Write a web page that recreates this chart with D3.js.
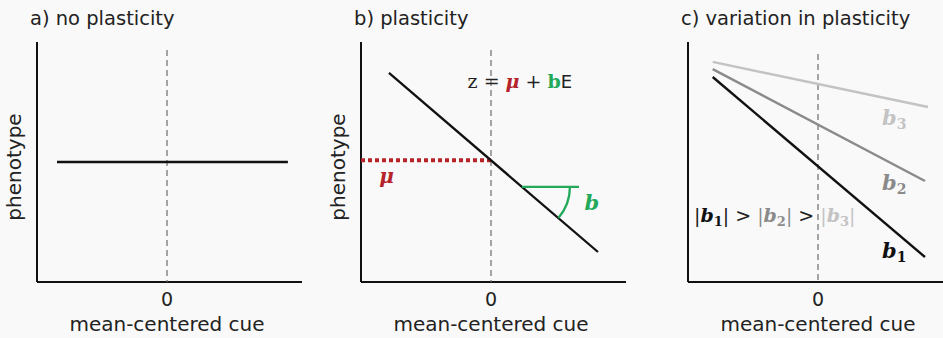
<!DOCTYPE html>
<html>
<head>
<meta charset="utf-8">
<script src="https://cdn.jsdelivr.net/npm/d3@7/dist/d3.min.js"></script>
<style>
  body { margin: 0; background: #f9f9f9; }
  svg { display: block; }
  .sans { font-family: "DejaVu Sans", sans-serif; fill: #222; }
  .math { font-family: "DejaVu Serif", "Liberation Serif", serif; }
</style>
</head>
<body>
<svg id="chart" width="943" height="338"></svg>
<script>
// panel titles and axis texts
var titles = ["a) no plasticity", "b) plasticity", "c) variation in plasticity"];
var panelLeft = [37, 361, 688];
var xTicks = [0];
var xLabel = "mean-centered cue";
var yLabel = "phenotype";

// reaction norms, endpoints in data units (x: mean-centered cue, y: phenotype)
var normA = [[-0.846, 0.5], [0.93, 0.5]];
var normB = [[-0.785, 0.871], [0.823, 0.125]];
var muB = 0.507;           // intercept of panel b
var slopeB = -0.464;       // slope of panel b
var angleFrom = 0.238, angleTo = 0.677;
var normsC = [
  {name: "b3", color: "#c3c3c3", pts: [[-0.81, 0.917], [0.846, 0.729]]},
  {name: "b2", color: "#8a8a8a", pts: [[-0.81, 0.887], [0.823, 0.421]]},
  {name: "b1", color: "#111111", pts: [[-0.81, 0.854], [0.823, 0.104]]}
];

var svg = d3.select("#chart");
var red = "#b5242a", green = "#22a95a";

panelLeft.forEach(function(L, i){
  var x = d3.scaleLinear().domain([-1, 1]).range([L, L + 260]);
  var y = d3.scaleLinear().domain([0, 1]).range([282, 42]);
  var g = svg.append("g");
  var line = d3.line().x(d => x(d[0])).y(d => y(d[1]));

  g.append("text").attr("class", "sans")
    .attr("x", L - 7).attr("y", 25)
    .style("font-size", "19.5px").text(titles[i]);

  // axes
  g.append("path").attr("d", line([[-1, 1], [-1, 0]]))
    .attr("stroke", "#111").attr("stroke-width", 2).attr("fill", "none");
  g.append("line").attr("x1", L).attr("x2", Math.min(L + 265, 943))
    .attr("y1", y(0)).attr("y2", y(0))
    .attr("stroke", "#111").attr("stroke-width", 2);

  g.selectAll(".tick").data(xTicks).enter().append("text").attr("class", "sans")
    .attr("x", d => x(d)).attr("y", 306).attr("text-anchor", "middle")
    .style("font-size", "19px").text(d => d);

  g.append("text").attr("class", "sans")
    .attr("x", x(0)).attr("y", 331).attr("text-anchor", "middle")
    .style("font-size", "20px").text(xLabel);

  if (i < 2) {
    g.append("text").attr("class", "sans")
      .attr("transform", "translate(" + (L - 16) + "," + 167 + ") rotate(-90)")
      .attr("text-anchor", "middle")
      .style("font-size", "20px").text(yLabel);
  }

  // dashed zero line
  g.append("path").attr("d", line([[0, i == 2 ? 0.95 : 0.967], [0, 0]]))
    .attr("stroke", "#777").attr("stroke-width", 1.3)
    .attr("stroke-dasharray", "6,4").attr("fill", "none");

  if (i == 0) {
    g.append("path").attr("d", line(normA))
      .attr("stroke", "#111").attr("stroke-width", 2.6).attr("fill", "none");
  }

  if (i == 1) {
    g.append("path").attr("d", line([[-1, muB], [0, muB]]))
      .attr("stroke", red).attr("stroke-width", 4)
      .attr("stroke-dasharray", "4,3").attr("fill", "none");
    g.append("path").attr("d", line(normB))
      .attr("stroke", "#111").attr("stroke-width", 2.3).attr("fill", "none");

    var ay = muB + slopeB * angleFrom;
    g.append("path").attr("d", line([[angleFrom, ay], [angleTo, ay]]))
      .attr("stroke", green).attr("stroke-width", 2.3).attr("fill", "none");
    var cx = x(angleFrom), cy = y(ay), r = 48;
    var ang = Math.atan(-slopeB * (y(0) - y(1)) / (x(1) - x(0)));
    var arc = d3.path();
    arc.arc(cx, cy, r, 0, ang, false);
    g.append("path").attr("d", arc.toString())
      .attr("stroke", green).attr("stroke-width", 2.3).attr("fill", "none");

    g.append("text").attr("class", "math")
      .attr("x", x(-0.86)).attr("y", 183)
      .style("font-size", "20px").style("font-weight", "bold").style("font-style", "italic")
      .attr("fill", red).text("μ");
    g.append("text").attr("class", "math")
      .attr("x", x(0.72)).attr("y", 210)
      .style("font-size", "21px").style("font-weight", "bold").style("font-style", "italic")
      .attr("fill", green).text("b");

    var eq = g.append("text").attr("x", x(-0.18)).attr("y", 88).style("font-size", "19px");
    eq.append("tspan").attr("class", "math").attr("fill", "#222").text("z = ");
    eq.append("tspan").attr("class", "math").attr("fill", red)
      .style("font-weight", "bold").style("font-style", "italic").text("μ");
    eq.append("tspan").attr("class", "math").attr("fill", "#222").text(" + ");
    eq.append("tspan").attr("class", "math").attr("fill", green)
      .style("font-weight", "bold").text("b");
    eq.append("tspan").attr("class", "sans").style("font-size", "18px").text("E");
  }

  if (i == 2) {
    g.selectAll(".norm").data(normsC).enter().append("path")
      .attr("d", d => line(d.pts))
      .attr("stroke", d => d.color).attr("stroke-width", 2.4).attr("fill", "none");

    var labY = {b3: 125, b2: 190, b1: 258};
    normsC.forEach(function(d){
      var t = g.append("text").attr("class", "math")
        .attr("x", 882).attr("y", labY[d.name])
        .style("font-size", "21px").style("font-weight", "bold")
        .attr("fill", d.color);
      t.append("tspan").style("font-style", "italic").text("b");
      t.append("tspan").attr("dy", 4).style("font-size", "14px").text(d.name.slice(1));
    });

    var rel = g.append("text").attr("class", "math")
      .attr("x", 694).attr("y", 222).style("font-size", "19px");
    normsC.slice().reverse().forEach(function(d, k){
      rel.append("tspan").attr("fill", d.color).attr("dy", 0).text("|");
      rel.append("tspan").attr("fill", d.color).style("font-weight", "bold")
        .style("font-style", "italic").text("b");
      rel.append("tspan").attr("fill", d.color).style("font-weight", "bold")
        .style("font-size", "13px").attr("dy", 4).text(d.name.slice(1));
      rel.append("tspan").attr("fill", d.color).attr("dy", -4).text("|");
      if (k < 2) rel.append("tspan").attr("fill", "#222").text(" > ");
    });
  }
});
</script>
</body>
</html>
